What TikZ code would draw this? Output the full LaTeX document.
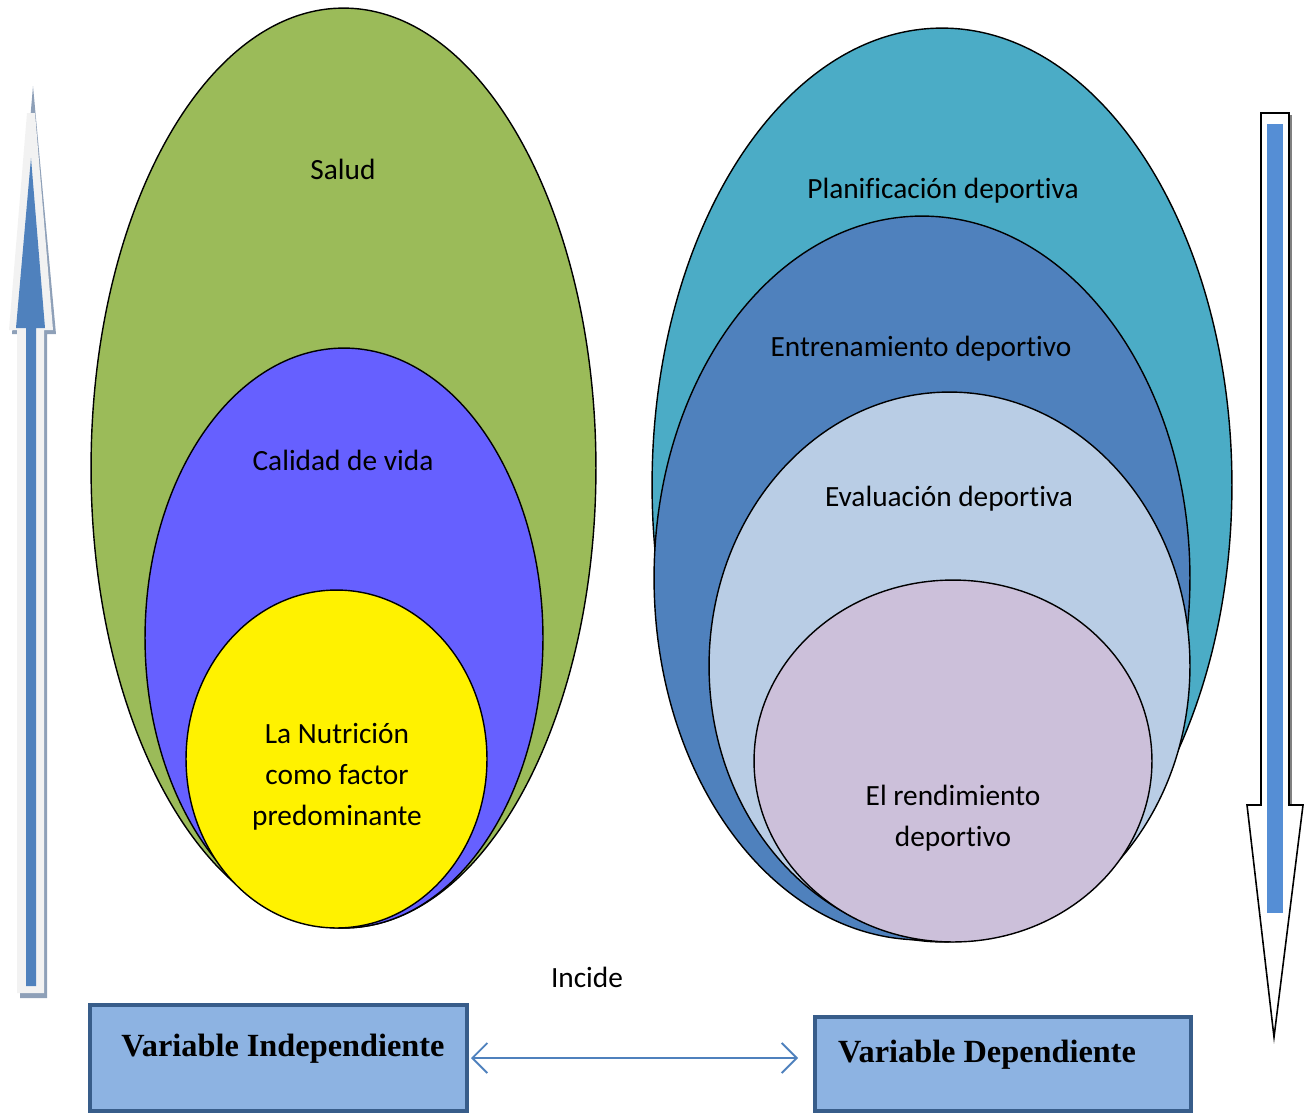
\documentclass[tikz,border=0pt]{standalone}
\usepackage{fontspec}
\setmainfont{Carlito}[Ligatures=NoCommon]
\newfontfamily\timesb{Liberation Serif}
\usepackage{tikz}
\usetikzlibrary{arrows.meta,shapes.geometric,positioning}

\definecolor{cSalud}{HTML}{9BBB59}
\definecolor{cCalidad}{HTML}{6660FF}
\definecolor{cPlan}{HTML}{4BACC6}
\definecolor{cEntren}{HTML}{4F81BD}
\definecolor{cEval}{HTML}{B9CDE5}
\definecolor{cRend}{HTML}{CCC0DA}
\definecolor{cBoxFill}{HTML}{8DB3E2}
\definecolor{cBoxLine}{HTML}{385D8A}
\definecolor{cShade}{HTML}{8EA0B8}
\definecolor{cLight}{HTML}{F2F2F2}
\definecolor{cInner}{HTML}{558ED5}

\begin{document}
\begin{tikzpicture}[x=0.02cm, y=-0.02cm]
	\tikzstyle{set} = [draw, ellipse, line width=0.8pt, inner sep=0pt]
	\tikzstyle{setLabel} = [align=center, font={\fontsize{16.7}{23.3}\selectfont}]
	\tikzstyle{varBox} = [draw=cBoxLine, fill=cBoxFill, line width=2.3pt, rectangle, inner sep=0pt]
	\tikzstyle{varText} = [font={\timesb\bfseries\fontsize{18.4}{22}\selectfont}]
	\tikzstyle{conn} = [cEntren, line width=1.1pt, shorten >=0.3cm, shorten <=0.04cm, {Straight Barb[length=0.3cm,width=0.6cm]}-{Straight Barb[length=0.3cm,width=0.6cm]}]

	\useasboundingbox (0,0) rectangle (1312,1113);

	\node[set, fill=cSalud, minimum width=10.1cm, minimum height=18.4cm](salud) at (343.5,468) {};
	\node[set, fill=cCalidad, minimum width=7.96cm, minimum height=11.6cm](calidad) at (344,638) {};
	\node[set, fill=yellow, minimum width=6.02cm, minimum height=6.76cm](nutri) at (336.5,759) {};

	\node[set, fill=cPlan, minimum width=11.6cm, minimum height=18.28cm](plan) at (942,485) {};
	\node[set, fill=cEntren, minimum width=10.72cm, minimum height=14.48cm](entren) at (922,578) {};
	\node[set, fill=cEval, minimum width=9.62cm, minimum height=10.96cm](eval) at (949.5,666) {};
	\node[set, fill=cRend, minimum width=7.96cm, minimum height=7.24cm](rend) at (953,761) {};

	\node[setLabel](saludTxt) at (343,169) {Salud};
	\node[setLabel](calidadTxt) at (343,460) {Calidad de vida};
	\node[setLabel](nutriTxt) at (337,777) {La Nutrición\\como factor\\predominante};
	\node[setLabel](planTxt) at (943,191) {Planificación deportiva};
	\node[setLabel](entrenTxt) at (921,349) {Entrenamiento deportivo};
	\node[setLabel](evalTxt) at (949,499) {Evaluación deportiva};
	\node[setLabel](rendTxt) at (953,818) {El rendimiento\\deportivo};
	\node[setLabel](incide) at (587,977) {Incide};

	\node[varBox, minimum width=7.54cm, minimum height=2.12cm](vi) at (278.5,1058) {};
	\node[varText](viTxt) at (283,1049) {Variable Independiente};
	\node[varBox, minimum width=7.52cm, minimum height=1.88cm](vd) at (1003,1064) {};
	\node[varText, anchor=west](vdTxt) at (832,1055) {Variable Dependiente};

	\draw[conn] (vi.east) -- (vi.east -| vd.west);

	\fill[cShade] (33,86) -- (56,334) -- (47,334) -- (47,998) -- (20,998) -- (20,334) -- (12,334) -- cycle;
	\fill[cLight] (27,113) -- (35,113) -- (53,330) -- (44,330) -- (44,993) -- (17,993) -- (17,330) -- (9,330) -- cycle;
	\fill[cEntren] (31,158) -- (45,328) -- (36,328) -- (36,986) -- (26,986) -- (26,328) -- (16,328) -- cycle;

	\fill[gray] (1289,115) rectangle (1292,805);
	\draw[black, line width=0.9pt, fill=white] (1261,113) -- (1289,113) -- (1289,805) -- (1303,805) -- (1274,1037) -- (1247,805) -- (1261,805) -- cycle;
	\fill[cInner] (1267,124) rectangle (1283,913);
\end{tikzpicture}
\end{document}
